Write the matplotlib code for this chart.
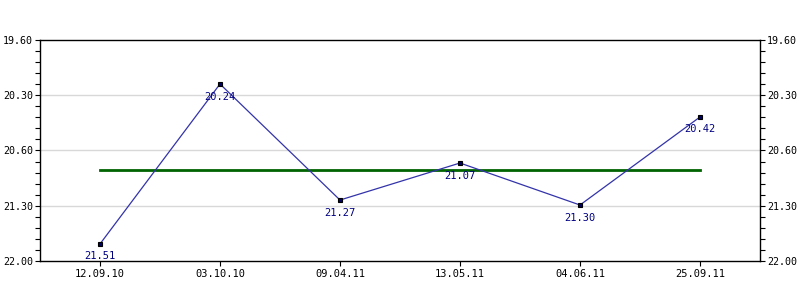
import numpy as np
import matplotlib
matplotlib.use("Agg")
import matplotlib.pyplot as plt

# datos
fechas = ["12.09.10", "03.10.10", "09.04.11", "13.05.11", "04.06.11", "25.09.11"]
valores = [21.815, 20.078, 21.338, 20.936, 21.392, 20.436]
etiquetas = ["21.51", "20.24", "21.27", "21.07", "21.30", "20.42"]
media = 21.012
ticks_y = [19.6, 20.2, 20.8, 21.4, 22.0]
ticks_y_txt = ["19.60", "20.30", "20.60", "21.30", "22.00"]

plt.rcParams["font.family"] = ["DejaVu Sans Mono"]

fig = plt.figure(figsize=(8, 3), dpi=100)
ax = fig.add_axes([0.05, 0.13, 0.90, 0.7367])

x = np.arange(len(fechas))

ax.plot([x[0], x[-1]], [media, media], color="#006400", linewidth=2, zorder=2)
ax.plot(x, valores, color="#3333aa", linewidth=0.9, zorder=3,
        marker="s", markersize=3.5, markerfacecolor="#000066",
        markeredgecolor="black", markeredgewidth=0.8)

for xi, v, t in zip(x, valores, etiquetas):
    ax.annotate(t, (xi, v), xytext=(0, -9), textcoords="offset points",
                ha="center", va="center", color="#000080", fontsize=7.5, zorder=4)

ax.set_xlim(-0.5, len(fechas) - 0.5)
ax.set_ylim(22.0, 19.6)
ax.set_xticks(x)
ax.set_xticklabels(fechas, fontsize=7.5)

ax.set_yticks(ticks_y)
ax.set_yticklabels(ticks_y_txt, fontsize=7.2)
ax.set_yticks(np.arange(19.6, 22.001, 0.12), minor=True)
ax.tick_params(axis="y", which="both", left=True, right=True,
               labelleft=True, labelright=True, length=3.5, width=0.8, pad=1.5)
ax.tick_params(axis="x", length=3.5, width=0.8, pad=2)

for g in ticks_y[1:-1]:
    ax.axhline(g, color="#d8d8d8", linewidth=1, zorder=1)

for s in ax.spines.values():
    s.set_linewidth(1)

fig.savefig("out.png", dpi=100)
plt.close()
